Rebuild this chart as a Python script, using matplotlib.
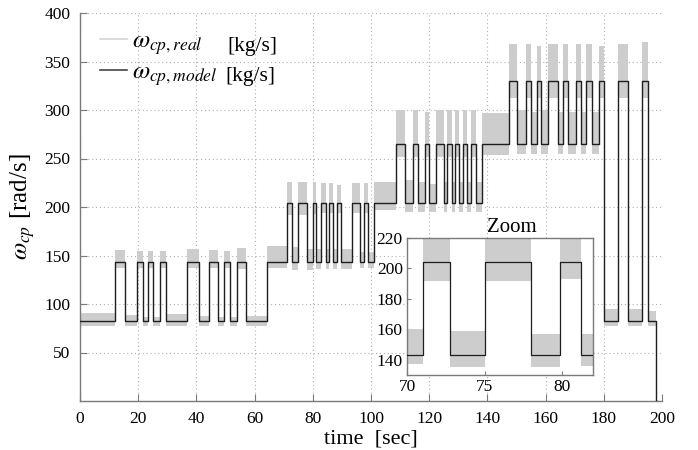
import matplotlib
matplotlib.use("Agg")
import matplotlib.pyplot as plt
from matplotlib.lines import Line2D

plt.rcParams['font.family'] = ['Liberation Serif', 'DejaVu Serif']
plt.rcParams['mathtext.fontset'] = 'stix'

# ---- data ----
# times (s) at which the compressor speed set-point switches
switch_times = [0, 11.9, 15.5, 19.5, 21.6, 23.5, 25.1, 27.5, 29.4, 36.8, 40.9, 44.2, 47.3,
                49.6, 51.7, 54.1, 57.1, 64.1,
                71.0, 72.8, 75.0, 78.0, 79.9, 81.2, 82.8, 84.5, 85.6, 86.8, 88.3, 89.7,
                93.4, 96.3, 97.7, 98.8, 100.9,
                108.6, 111.6, 114.4, 116.3, 118.7, 120.1, 122.2, 125.1, 126.0, 127.8,
                128.7, 130.4, 131.6, 133.0, 134.5, 136.2, 138.3,
                147.5, 150.1, 153.3, 154.9, 157.1, 158.4, 160.9, 164.1, 166.1, 167.8,
                170.3, 172.2, 173.9, 175.9, 178.2,
                179.9, 184.8, 188.3, 193.1, 195.2, 198.0]
end_time = 198.2

# model speed level on each segment (rad/s)
model_level = [82, 143, 82, 143, 82, 143, 82, 143, 82, 143, 82, 143, 82,
               143, 82, 143, 82, 143,
               204, 143, 204, 143, 204, 143, 204, 143, 204, 143, 204, 143,
               204, 143, 204, 143, 204,
               265, 204, 265, 204, 265, 204, 265, 204, 265, 204,
               265, 204, 265, 204, 265, 204, 265,
               330, 265, 330, 265, 330, 265, 330, 265, 330, 265,
               330, 265, 330, 265, 330,
               82, 330, 82, 330, 82, 0]

# measured ("real") speed: lower / upper extent of the noisy trace on each segment
real_low = [77, 137, 77, 137, 77, 137, 77, 137, 77, 137, 77, 137, 77,
            137, 77, 136, 77, 137,
            192, 135, 192, 135, 193, 136, 194, 136, 194, 136, 194, 136,
            194, 137, 194, 137, 197,
            252, 195, 252, 195, 252, 195, 252, 195, 252, 195,
            252, 195, 252, 195, 252, 195, 254,
            312, 255, 312, 255, 312, 255, 312, 255, 312, 255,
            312, 255, 312, 255, 312,
            77, 312, 77, 312, 77, 0]
real_high = [91, 156, 89, 155, 87, 155, 87, 155, 90, 157, 88, 156, 87,
             155, 87, 158, 88, 160,
             226, 159, 226, 157, 226, 157, 225, 157, 225, 157, 223, 157,
             225, 154, 225, 154, 226,
             300, 228, 300, 226, 298, 224, 300, 226, 300, 226,
             300, 226, 300, 226, 300, 226, 297,
             368, 300, 368, 298, 366, 300, 368, 298, 368, 298,
             368, 298, 368, 298, 366,
             95, 368, 95, 370, 93, 0]

x_ticks = [0, 20, 40, 60, 80, 100, 120, 140, 160, 180, 200]
y_ticks = [50, 100, 150, 200, 250, 300, 350, 400]
zoom_x_ticks = [70, 75, 80]
zoom_y_ticks = [140, 160, 180, 200, 220]

# step arrays (last value repeated for 'post' stepping)
t_edges = switch_times + [end_time]
m_vals = model_level + [model_level[-1]]
lo_vals = real_low + [real_low[-1]]
hi_vals = real_high + [real_high[-1]]

REAL_C = '#cdcdcd'
MODEL_C = '#1e1e1e'
SPINE_C = '#7a7a7a'

W, H = 698, 450
fig = plt.figure(figsize=(W / 100, H / 100), dpi=100)
ax = fig.add_axes([80 / W, 1 - 401 / H, 582 / W, 388 / H])


def draw(a, lw_model):
    a.fill_between(t_edges, lo_vals, hi_vals, step='post', color=REAL_C, lw=0,
                   zorder=2)
    a.step(t_edges, m_vals, where='post', color=MODEL_C, lw=lw_model, zorder=3)


draw(ax, 1.0)
ax.set_xlim(0, 200)
ax.set_ylim(0, 400)
ax.set_xticks(x_ticks)
ax.set_yticks(y_ticks)
ax.grid(True, linestyle=(0, (1, 2.5)), color='#b0b0b0', lw=0.8, zorder=0)
for s in ['top', 'right']:
    ax.spines[s].set_visible(False)
for s in ['left', 'bottom']:
    ax.spines[s].set_color(SPINE_C)
    ax.spines[s].set_linewidth(1.0)
ax.tick_params(direction='in', length=5, width=0.8, color=SPINE_C,
               labelsize=12.5, pad=7)
ax.set_xlabel('time  [sec]', fontsize=16, labelpad=2)
ax.set_ylabel(r'$\omega_{cp}$ [rad/s]', fontsize=18, labelpad=5)

# legend
handles = [Line2D([], [], color='#d6d6d6', lw=1.2),
           Line2D([], [], color='#444444', lw=1.2)]
ax.legend(handles, [r'$\omega_{cp,real}$', r'$\omega_{cp,model}$'],
          loc='upper left', bbox_to_anchor=(0.034, 0.955), frameon=False,
          fontsize=18, handlelength=1.1, handletextpad=0.2, labelspacing=0.15,
          borderpad=0.0, borderaxespad=0.0)
fig.text(227 / W, 1 - 47 / H, '[kg/s]', fontsize=15.5, va='center', ha='left')
fig.text(225 / W, 1 - 77 / H, '[kg/s]', fontsize=15.5, va='center', ha='left')

# inset
ax_in = fig.add_axes([407 / W, 1 - 375 / H, 186 / W, 137 / H])
ax_in.set_facecolor('white')
draw(ax_in, 0.9)
ax_in.set_xlim(70, 82)
ax_in.set_ylim(130, 220)
ax_in.set_xticks(zoom_x_ticks)
ax_in.set_yticks(zoom_y_ticks)
for s in ax_in.spines.values():
    s.set_color(SPINE_C)
    s.set_linewidth(1.0)
ax_in.tick_params(direction='in', length=3, width=0.8, color=SPINE_C,
                  labelsize=12.5, pad=3)
ax_in.text(0.565, 1.01, 'Zoom', transform=ax_in.transAxes, ha='center',
           va='bottom', fontsize=15)

fig.savefig('out.png', dpi=100)
